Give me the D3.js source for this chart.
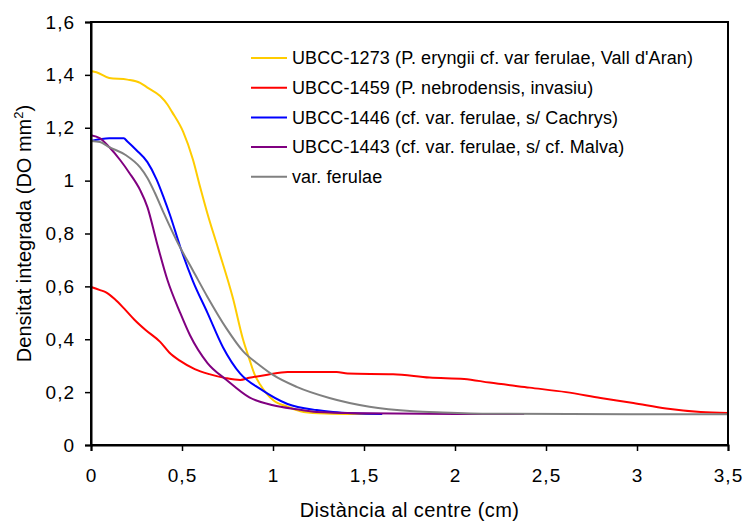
<!DOCTYPE html>
<html>
<head>
<meta charset="utf-8">
<script src="https://cdn.jsdelivr.net/npm/d3@7"></script>
<style>
  body { margin: 0; background: #fff; }
  svg { display: block; font-family: "Liberation Sans", Arial, sans-serif; }
</style>
</head>
<body>
<div id="chart"></div>
<script>
// Series names and colours (legend order)
const seriesNames = [
    "UBCC-1273 (P. eryngii cf. var ferulae, Vall d'Aran)",
    "UBCC-1459 (P. nebrodensis, invasiu)",
    "UBCC-1446 (cf. var. ferulae, s/ Cachrys)",
    "UBCC-1443 (cf. var. ferulae, s/ cf. Malva)",
    "var. ferulae"
];
const seriesColors = ["#FFCC00", "#FF0000", "#0000FF", "#800080", "#808080"];

// Distance (cm) / integrated density readings per strain
const dist1273 = [0, 0.03, 0.1, 0.2, 0.27, 0.31, 0.38, 0.42, 0.445, 0.506, 0.56, 0.60, 0.64, 0.70, 0.78, 0.835, 0.87, 0.90, 0.93, 1.0, 1.08, 1.15, 1.25, 1.4, 1.6];
const dens1273 = [1.415, 1.41, 1.388, 1.382, 1.37, 1.352, 1.32, 1.288, 1.26, 1.185, 1.08, 0.975, 0.875, 0.74, 0.555, 0.40, 0.325, 0.265, 0.228, 0.17, 0.145, 0.128, 0.12, 0.117, 0.117];

const dist1459 = [0, 0.05, 0.08, 0.13, 0.19, 0.24, 0.30, 0.38, 0.43, 0.49, 0.57, 0.65, 0.74, 0.82, 0.87, 0.97, 1.08, 1.35, 1.41, 1.66, 1.86, 2.05, 2.19, 2.41, 2.61, 2.80, 2.98, 3.16, 3.35, 3.5];
const dens1459 = [0.598, 0.586, 0.578, 0.552, 0.51, 0.473, 0.435, 0.39, 0.35, 0.318, 0.287, 0.268, 0.253, 0.246, 0.254, 0.266, 0.276, 0.276, 0.27, 0.268, 0.255, 0.25, 0.236, 0.217, 0.20, 0.178, 0.159, 0.138, 0.125, 0.121];

const dist1446 = [0, 0.1, 0.18, 0.2, 0.25, 0.31, 0.36, 0.40, 0.434, 0.49, 0.56, 0.64, 0.725, 0.82, 0.93, 1.08, 1.24, 1.33, 1.45, 1.6];
const dens1446 = [1.15, 1.16, 1.16, 1.148, 1.115, 1.07, 1.005, 0.935, 0.87, 0.75, 0.62, 0.50, 0.37, 0.27, 0.212, 0.155, 0.132, 0.125, 0.12, 0.117];

const dist1443 = [0, 0.05, 0.1, 0.16, 0.21, 0.27, 0.31, 0.36, 0.42, 0.49, 0.544, 0.64, 0.745, 0.87, 1.0, 1.13, 1.24, 1.5, 2.0, 2.38];
const dens1443 = [1.172, 1.16, 1.127, 1.078, 1.03, 0.964, 0.90, 0.77, 0.624, 0.50, 0.415, 0.31, 0.246, 0.18, 0.15, 0.135, 0.125, 0.12, 0.117, 0.117];

const distFerulae = [0, 0.05, 0.1, 0.19, 0.27, 0.31, 0.35, 0.40, 0.48, 0.56, 0.64, 0.745, 0.835, 0.93, 1.0, 1.13, 1.31, 1.53, 1.77, 1.93, 2.2, 3.5];
const densFerulae = [1.15, 1.146, 1.127, 1.097, 1.05, 1.01, 0.955, 0.877, 0.76, 0.66, 0.56, 0.44, 0.355, 0.30, 0.265, 0.22, 0.178, 0.145, 0.128, 0.123, 0.118, 0.116];

const xTicks = [0, 0.5, 1, 1.5, 2, 2.5, 3, 3.5];
const yTicks = [0, 0.2, 0.4, 0.6, 0.8, 1, 1.2, 1.4, 1.6];

const seriesDist = [dist1273, dist1459, dist1446, dist1443, distFerulae];
const seriesDens = [dens1273, dens1459, dens1446, dens1443, densFerulae];

// Catalan number format: comma as decimal separator
const locale = d3.formatLocale({ decimal: ",", thousands: ".", grouping: [3], currency: ["", " €"] });
const fmt = d => locale.format("~g")(d);

// Dimensions
const W = 746, H = 522;
const margin = { top: 22, right: 18, bottom: 77, left: 91 };
const width = W - margin.left - margin.right;
const height = H - margin.top - margin.bottom;

const xScale = d3.scaleLinear().domain([0, 3.5]).range([0, width]);
const yScale = d3.scaleLinear().domain([0, 1.6]).range([height, 0]);

const svg = d3.select("#chart")
    .append("svg")
    .attr("width", W)
    .attr("height", H);

const g = svg.append("g")
    .attr("transform", "translate(" + margin.left + "," + margin.top + ")");

// Lines
const line = d3.line()
    .curve(d3.curveMonotoneX)
    .x(d => xScale(d[0]))
    .y(d => yScale(d[1]));

seriesDist.forEach((xs, i) => {
    const pts = xs.map((x, j) => [x, seriesDens[i][j]]);
    g.append("path")
        .datum(pts)
        .attr("fill", "none")
        .attr("stroke", seriesColors[i])
        .attr("stroke-width", 2)
        .attr("stroke-linejoin", "round")
        .attr("d", line);
});

// Frame (top and right borders)
g.append("rect")
    .attr("width", width)
    .attr("height", height)
    .attr("fill", "none")
    .attr("stroke", "#000")
    .attr("stroke-width", 2);

// Axes
const xAxis = g.append("g")
    .attr("transform", "translate(0," + height + ")")
    .call(d3.axisBottom(xScale).tickValues(xTicks).tickFormat(fmt).tickSize(6).tickPadding(18));

const yAxis = g.append("g")
    .call(d3.axisLeft(yScale).tickValues(yTicks).tickFormat(fmt).tickSize(6).tickPadding(10));

[xAxis, yAxis].forEach(ax => {
    ax.select(".domain").attr("stroke-width", 2);
    ax.selectAll(".tick line").attr("stroke-width", 1.5);
    ax.selectAll("text")
        .attr("fill", "#000")
        .style("font-family", "'Liberation Sans', Arial, sans-serif")
        .style("font-size", "19px")
        .style("letter-spacing", "1px");
});

// Axis titles
svg.append("text")
    .attr("x", margin.left + width / 2)
    .attr("y", 517)
    .attr("text-anchor", "middle")
    .style("font-size", "20px")
    .style("letter-spacing", "0.4px")
    .text("Distància al centre (cm)");

const yTitle = svg.append("text")
    .attr("transform", "translate(31," + (margin.top + height / 2) + ") rotate(-90)")
    .attr("text-anchor", "middle")
    .style("font-size", "20px");
yTitle.append("tspan").text("Densitat integrada (DO mm");
yTitle.append("tspan").attr("dy", -8).style("font-size", "13px").text("2");
yTitle.append("tspan").attr("dy", 8).text(")");

// Legend
const legend = svg.append("g").attr("transform", "translate(251,58)");
seriesNames.forEach((name, i) => {
    const row = legend.append("g").attr("transform", "translate(0," + (i * 29.7) + ")");
    row.append("line")
        .attr("x1", 0).attr("x2", 36)
        .attr("stroke", seriesColors[i])
        .attr("stroke-width", 2);
    row.append("text")
        .attr("x", 41)
        .attr("dy", "0.35em")
        .style("font-size", "18px")
        .style("letter-spacing", "0.1px")
        .text(name);
});
</script>
</body>
</html>
